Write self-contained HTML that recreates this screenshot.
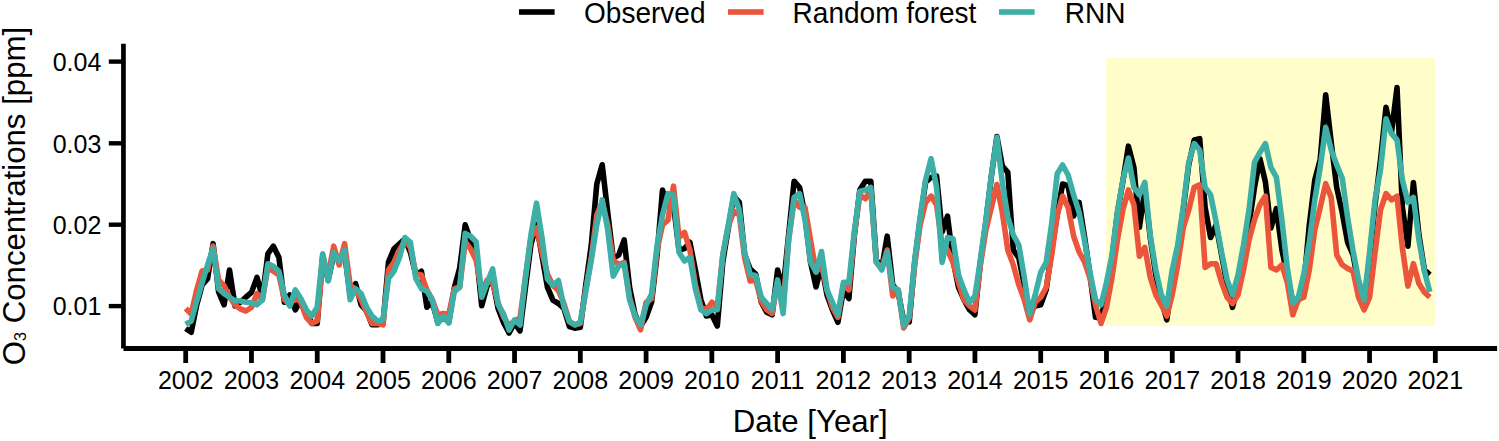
<!DOCTYPE html>
<html><head><meta charset="utf-8">
<style>
html,body{margin:0;padding:0;background:#fff;width:1499px;height:441px;overflow:hidden}
svg{display:block}
text{font-family:"Liberation Sans",sans-serif;fill:#000}
</style></head><body>
<svg width="1499" height="441" viewBox="0 0 1499 441">
<rect x="1106" y="57.9" width="329.2" height="268" fill="#FFFDC9"/>
<g fill="none" stroke-linejoin="round" stroke-linecap="butt" stroke-width="5.6">
<polyline stroke="#000" points="185.7,328.5 191.2,332.3 196.7,305.0 202.1,285.0 207.6,278.6 213.1,243.7 218.6,292.0 224.1,304.8 229.5,270.0 235.0,306.0 240.5,302.0 246.0,297.0 251.5,292.4 257.0,277.4 262.4,297.3 267.9,253.7 273.4,246.2 278.9,257.4 284.4,302.3 289.8,294.9 295.3,309.8 300.8,299.8 306.3,312.3 311.8,323.5 317.2,323.5 322.7,256.0 328.2,280.0 333.7,255.0 339.2,260.0 344.6,253.0 350.1,295.0 355.6,283.6 361.1,304.8 366.6,311.0 372.0,324.8 377.5,324.8 383.0,323.5 388.5,262.0 394.0,248.7 399.5,243.7 404.9,238.7 410.4,252.4 415.9,274.9 421.4,271.2 426.9,307.3 432.3,302.3 437.8,322.3 443.3,317.3 448.8,322.0 454.3,288.0 459.7,268.0 465.2,224.9 470.7,240.5 476.2,251.8 481.7,305.7 487.1,285.9 492.6,280.2 498.1,308.5 503.6,322.7 509.1,333.0 514.5,323.0 520.0,331.0 525.5,287.1 531.0,244.3 536.5,224.6 542.0,255.8 547.4,287.1 552.9,300.2 558.4,303.5 563.9,308.4 569.4,326.5 574.8,328.2 580.3,327.3 585.8,284.9 591.3,245.0 596.8,184.0 602.2,164.8 607.7,212.4 613.2,258.0 618.7,255.0 624.2,240.0 629.6,287.4 635.1,314.8 640.6,326.0 646.1,317.3 651.6,302.0 657.1,255.0 662.5,190.0 668.0,207.0 673.5,205.0 679.0,250.0 684.5,248.6 689.9,242.3 695.4,270.0 700.9,299.8 706.4,316.0 711.9,314.8 717.3,326.0 722.8,262.0 728.3,228.0 733.8,196.0 739.3,202.4 744.7,255.0 750.2,269.0 755.7,274.0 761.2,302.0 766.7,312.3 772.1,314.8 777.6,270.0 783.1,290.0 788.6,235.0 794.1,181.2 799.6,187.5 805.0,215.0 810.5,262.0 816.0,287.0 821.5,265.0 827.0,295.0 832.4,309.8 837.9,322.3 843.4,290.0 848.9,298.6 854.4,235.0 859.8,190.0 865.3,181.2 870.8,181.2 876.3,259.8 881.8,268.0 887.2,236.2 892.7,284.9 898.2,292.0 903.7,321.0 909.2,322.0 914.7,262.0 920.1,220.0 925.6,182.0 931.1,177.4 936.6,176.2 942.1,232.0 947.5,216.1 953.0,260.0 958.5,287.4 964.0,299.8 969.5,309.8 974.9,314.8 980.4,262.0 985.9,222.0 991.4,176.0 996.9,136.5 1002.3,166.0 1007.8,172.4 1013.3,250.0 1018.8,258.0 1024.3,285.0 1029.7,312.3 1035.2,306.0 1040.7,304.8 1046.2,289.9 1051.7,250.0 1057.2,214.9 1062.6,184.0 1068.1,186.0 1073.6,216.0 1079.1,202.4 1084.6,237.3 1090.0,275.0 1095.5,317.3 1101.0,318.0 1106.5,295.0 1112.0,258.0 1117.4,213.0 1122.9,181.0 1128.4,146.2 1133.9,167.4 1139.4,227.3 1144.8,190.0 1150.3,238.0 1155.8,275.0 1161.3,300.0 1166.8,319.8 1172.2,280.0 1177.7,250.0 1183.2,210.0 1188.7,165.0 1194.2,140.0 1199.7,138.7 1205.1,207.3 1210.6,237.5 1216.1,225.0 1221.6,255.0 1227.1,285.0 1232.5,307.3 1238.0,285.0 1243.5,250.0 1249.0,224.8 1254.5,187.4 1259.9,158.7 1265.4,182.0 1270.9,228.0 1276.4,208.6 1281.9,250.0 1287.3,275.0 1292.8,302.3 1298.3,300.0 1303.8,285.0 1309.3,225.0 1314.8,180.0 1320.2,159.8 1325.7,94.7 1331.2,142.4 1336.7,187.5 1342.2,212.4 1347.6,242.3 1353.1,255.0 1358.6,285.0 1364.1,302.0 1369.6,258.0 1375.0,205.0 1380.5,160.0 1386.0,107.4 1391.5,132.4 1397.0,87.5 1402.4,207.4 1407.9,246.2 1413.4,182.5 1418.9,234.8 1424.4,269.8 1429.8,274.9"/>
<polyline stroke="#EB553B" points="185.7,308.6 191.2,314.0 196.7,290.0 202.1,271.0 207.6,270.0 213.1,246.0 218.6,280.0 224.1,286.0 229.5,297.0 235.0,305.0 240.5,309.0 246.0,311.0 251.5,307.3 257.0,293.6 262.4,299.8 267.9,267.4 273.4,271.2 278.9,275.0 284.4,299.8 289.8,304.8 295.3,297.3 300.8,302.3 306.3,317.3 311.8,323.5 317.2,321.0 322.7,262.4 328.2,274.9 333.7,246.2 339.2,265.0 344.6,243.7 350.1,284.9 355.6,289.9 361.1,299.8 366.6,312.3 372.0,323.5 377.5,323.5 383.0,324.8 388.5,270.0 394.0,262.4 399.5,250.0 404.9,241.2 410.4,247.4 415.9,273.6 421.4,274.9 426.9,289.9 432.3,299.8 437.8,314.8 443.3,313.5 448.8,314.2 454.3,288.7 459.7,287.0 465.2,241.9 470.7,249.0 476.2,260.4 481.7,291.5 487.1,280.2 492.6,283.0 498.1,302.9 503.6,317.0 509.1,325.5 514.5,321.0 520.0,318.0 525.5,277.2 531.0,237.7 536.5,227.9 542.0,252.5 547.4,273.9 552.9,285.4 558.4,290.4 563.9,303.5 569.4,321.6 574.8,324.9 580.3,323.5 585.8,290.0 591.3,257.4 596.8,214.9 602.2,202.4 607.7,224.8 613.2,260.0 618.7,264.9 624.2,262.4 629.6,297.3 635.1,317.3 640.6,329.8 646.1,302.3 651.6,298.6 657.1,250.0 662.5,224.9 668.0,220.0 673.5,186.2 679.0,237.4 684.5,232.4 689.9,249.8 695.4,285.0 700.9,307.3 706.4,309.8 711.9,302.3 717.3,307.3 722.8,255.0 728.3,226.0 733.8,211.2 739.3,215.0 744.7,258.0 750.2,281.0 755.7,280.0 761.2,301.0 766.7,309.8 772.1,313.5 777.6,282.0 783.1,305.0 788.6,240.0 794.1,200.0 799.6,207.4 805.0,207.4 810.5,240.0 816.0,272.0 821.5,265.0 827.0,290.0 832.4,307.3 837.9,317.3 843.4,285.0 848.9,289.9 854.4,233.0 859.8,195.0 865.3,198.7 870.8,190.0 876.3,262.4 881.8,268.0 887.2,250.0 892.7,296.0 898.2,290.0 903.7,328.0 909.2,318.0 914.7,265.0 920.1,225.0 925.6,202.4 931.1,196.1 936.6,204.9 942.1,245.0 947.5,250.0 953.0,262.4 958.5,282.4 964.0,299.8 969.5,306.0 974.9,310.0 980.4,265.0 985.9,230.0 991.4,207.3 996.9,184.5 1002.3,212.3 1007.8,250.0 1013.3,264.9 1018.8,284.9 1024.3,299.8 1029.7,319.8 1035.2,302.3 1040.7,297.3 1046.2,287.4 1051.7,255.0 1057.2,214.9 1062.6,196.1 1068.1,207.4 1073.6,236.0 1079.1,252.0 1084.6,262.0 1090.0,278.0 1095.5,305.0 1101.0,323.5 1106.5,307.3 1112.0,277.4 1117.4,240.0 1122.9,209.8 1128.4,189.9 1133.9,204.8 1139.4,256.2 1144.8,247.4 1150.3,277.4 1155.8,294.8 1161.3,304.8 1166.8,316.0 1172.2,294.8 1177.7,264.9 1183.2,228.0 1188.7,210.0 1194.2,187.4 1199.7,184.9 1205.1,267.4 1210.6,263.7 1216.1,263.7 1221.6,282.4 1227.1,297.3 1232.5,303.6 1238.0,294.8 1243.5,270.0 1249.0,240.0 1254.5,219.8 1259.9,204.8 1265.4,196.1 1270.9,267.4 1276.4,270.0 1281.9,264.9 1287.3,282.4 1292.8,314.8 1298.3,299.8 1303.8,297.3 1309.3,269.8 1314.8,229.9 1320.2,207.4 1325.7,183.7 1331.2,197.4 1336.7,254.8 1342.2,264.8 1347.6,268.5 1353.1,271.1 1358.6,297.3 1364.1,310.0 1369.6,297.3 1375.0,253.0 1380.5,209.9 1386.0,193.7 1391.5,199.9 1397.0,196.2 1402.4,248.0 1407.9,286.1 1413.4,263.7 1418.9,283.6 1424.4,292.3 1429.8,297.3"/>
<polyline stroke="#3DAFA6" points="185.7,324.3 191.2,321.0 196.7,301.3 202.1,283.0 207.6,264.7 213.1,248.7 218.6,288.6 224.1,293.6 229.5,297.3 235.0,300.6 240.5,301.0 246.0,302.3 251.5,302.8 257.0,304.8 262.4,299.8 267.9,263.7 273.4,266.2 278.9,271.2 284.4,294.9 289.8,306.0 295.3,289.9 300.8,298.6 306.3,309.8 311.8,316.0 317.2,307.3 322.7,253.7 328.2,281.0 333.7,252.4 339.2,261.2 344.6,250.0 350.1,299.8 355.6,288.6 361.1,293.6 366.6,307.3 372.0,316.0 377.5,321.0 383.0,319.8 388.5,278.6 394.0,271.2 399.5,257.4 404.9,237.5 410.4,242.4 415.9,278.6 421.4,288.6 426.9,291.1 432.3,299.8 437.8,323.5 443.3,316.0 448.8,323.0 454.3,291.5 459.7,287.3 465.2,233.4 470.7,236.3 476.2,241.9 481.7,297.2 487.1,283.0 492.6,268.9 498.1,304.3 503.6,314.2 509.1,330.0 514.5,320.0 520.0,325.0 525.5,277.2 531.0,234.5 536.5,203.2 542.0,237.7 547.4,278.9 552.9,285.4 558.4,280.5 563.9,306.8 569.4,321.6 574.8,324.9 580.3,322.3 585.8,291.0 591.3,260.0 596.8,224.8 602.2,199.8 607.7,229.8 613.2,276.1 618.7,266.2 624.2,263.7 629.6,299.8 635.1,316.0 640.6,324.8 646.1,305.0 651.6,294.0 657.1,245.0 662.5,215.0 668.0,193.7 673.5,195.0 679.0,252.3 684.5,261.0 689.9,257.4 695.4,289.0 700.9,309.8 706.4,313.6 711.9,309.8 717.3,309.8 722.8,255.0 728.3,224.9 733.8,193.7 739.3,209.9 744.7,252.3 750.2,274.5 755.7,275.5 761.2,297.0 766.7,303.6 772.1,309.8 777.6,279.9 783.1,313.6 788.6,240.0 794.1,197.4 799.6,193.7 805.0,219.9 810.5,262.0 816.0,272.0 821.5,251.5 827.0,290.0 832.4,302.3 837.9,314.8 843.4,282.4 848.9,282.4 854.4,231.0 859.8,191.2 865.3,190.0 870.8,187.5 876.3,262.0 881.8,270.0 887.2,252.0 892.7,287.4 898.2,289.9 903.7,326.0 909.2,316.0 914.7,260.0 920.1,217.3 925.6,179.9 931.1,158.7 936.6,187.4 942.1,262.4 947.5,237.5 953.0,238.7 958.5,274.9 964.0,289.9 969.5,302.3 974.9,296.1 980.4,260.0 985.9,219.8 991.4,174.9 996.9,137.3 1002.3,182.4 1007.8,217.0 1013.3,235.0 1018.8,245.0 1024.3,277.4 1029.7,314.0 1035.2,294.8 1040.7,272.4 1046.2,262.4 1051.7,223.5 1057.2,173.7 1062.6,165.0 1068.1,175.0 1073.6,194.9 1079.1,212.4 1084.6,241.0 1090.0,272.4 1095.5,299.8 1101.0,304.8 1106.5,282.4 1112.0,255.0 1117.4,212.3 1122.9,179.9 1128.4,158.0 1133.9,187.4 1139.4,194.9 1144.8,182.4 1150.3,236.0 1155.8,270.0 1161.3,294.8 1166.8,306.0 1172.2,270.0 1177.7,245.0 1183.2,207.3 1188.7,162.4 1194.2,143.7 1199.7,150.0 1205.1,187.4 1210.6,194.9 1216.1,222.0 1221.6,252.4 1227.1,279.9 1232.5,294.8 1238.0,274.9 1243.5,245.0 1249.0,210.0 1254.5,162.4 1259.9,152.4 1265.4,143.7 1270.9,167.4 1276.4,177.4 1281.9,220.0 1287.3,268.0 1292.8,303.0 1298.3,297.3 1303.8,274.0 1309.3,242.3 1314.8,200.0 1320.2,167.3 1325.7,127.4 1331.2,149.9 1336.7,164.8 1342.2,178.0 1347.6,217.4 1353.1,251.0 1358.6,279.9 1364.1,300.0 1369.6,252.0 1375.0,200.0 1380.5,169.8 1386.0,118.7 1391.5,133.6 1397.0,139.9 1402.4,180.0 1407.9,202.4 1413.4,197.4 1418.9,239.8 1424.4,271.0 1429.8,292.0"/>
</g>
<g stroke="#000" fill="none">
<line x1="123.45" y1="43.7" x2="123.45" y2="348.6" stroke-width="4.7"/>
<line x1="123.5" y1="348.5" x2="1497.1" y2="348.5" stroke-width="4.8"/>
<g stroke-width="4.4">
<line x1="108.8" y1="61.6" x2="122" y2="61.6"/>
<line x1="108.8" y1="143.3" x2="122" y2="143.3"/>
<line x1="108.8" y1="224.7" x2="122" y2="224.7"/>
<line x1="108.8" y1="306.1" x2="122" y2="306.1"/>
</g>
<g stroke-width="4.8">
<line x1="185.70" y1="348" x2="185.70" y2="363"/>
<line x1="251.47" y1="348" x2="251.47" y2="363"/>
<line x1="317.24" y1="348" x2="317.24" y2="363"/>
<line x1="383.01" y1="348" x2="383.01" y2="363"/>
<line x1="448.78" y1="348" x2="448.78" y2="363"/>
<line x1="514.55" y1="348" x2="514.55" y2="363"/>
<line x1="580.32" y1="348" x2="580.32" y2="363"/>
<line x1="646.09" y1="348" x2="646.09" y2="363"/>
<line x1="711.86" y1="348" x2="711.86" y2="363"/>
<line x1="777.63" y1="348" x2="777.63" y2="363"/>
<line x1="843.40" y1="348" x2="843.40" y2="363"/>
<line x1="909.17" y1="348" x2="909.17" y2="363"/>
<line x1="974.94" y1="348" x2="974.94" y2="363"/>
<line x1="1040.71" y1="348" x2="1040.71" y2="363"/>
<line x1="1106.48" y1="348" x2="1106.48" y2="363"/>
<line x1="1172.25" y1="348" x2="1172.25" y2="363"/>
<line x1="1238.02" y1="348" x2="1238.02" y2="363"/>
<line x1="1303.79" y1="348" x2="1303.79" y2="363"/>
<line x1="1369.56" y1="348" x2="1369.56" y2="363"/>
<line x1="1435.33" y1="348" x2="1435.33" y2="363"/>
</g>
</g>
<g font-size="25" text-anchor="end">
<text x="101.4" y="70.9">0.04</text>
<text x="101.4" y="152.6">0.03</text>
<text x="101.4" y="234">0.02</text>
<text x="101.4" y="315.4">0.01</text>
</g>
<g font-size="25" text-anchor="middle">
<text x="185.70" y="389">2002</text>
<text x="251.47" y="389">2003</text>
<text x="317.24" y="389">2004</text>
<text x="383.01" y="389">2005</text>
<text x="448.78" y="389">2006</text>
<text x="514.55" y="389">2007</text>
<text x="580.32" y="389">2008</text>
<text x="646.09" y="389">2009</text>
<text x="711.86" y="389">2010</text>
<text x="777.63" y="389">2011</text>
<text x="843.40" y="389">2012</text>
<text x="909.17" y="389">2013</text>
<text x="974.94" y="389">2014</text>
<text x="1040.71" y="389">2015</text>
<text x="1106.48" y="389">2016</text>
<text x="1172.25" y="389">2017</text>
<text x="1238.02" y="389">2018</text>
<text x="1303.79" y="389">2019</text>
<text x="1369.56" y="389">2020</text>
<text x="1435.33" y="389">2021</text>
</g>
<text x="810.2" y="431.7" font-size="31.2" text-anchor="middle">Date [Year]</text>
<text transform="translate(25.2,365.3) rotate(-90)" font-size="31.2">O<tspan font-size="16.3" dy="0.4">3</tspan><tspan dy="-0.4"> Concentrations [ppm]</tspan></text>
<g font-size="29.5">
<rect x="519" y="9.2" width="35.6" height="5.6" fill="#000"/>
<text transform="translate(584,22.6) scale(0.95,1)">Observed</text>
<rect x="728" y="9.2" width="35.6" height="5.6" fill="#EB553B"/>
<text transform="translate(792.6,22.6) scale(0.95,1)">Random forest</text>
<rect x="999" y="9.2" width="35.6" height="5.6" fill="#3DAFA6"/>
<text transform="translate(1064.7,22.6) scale(0.95,1)">RNN</text>
</g>
</svg>
</body></html>
